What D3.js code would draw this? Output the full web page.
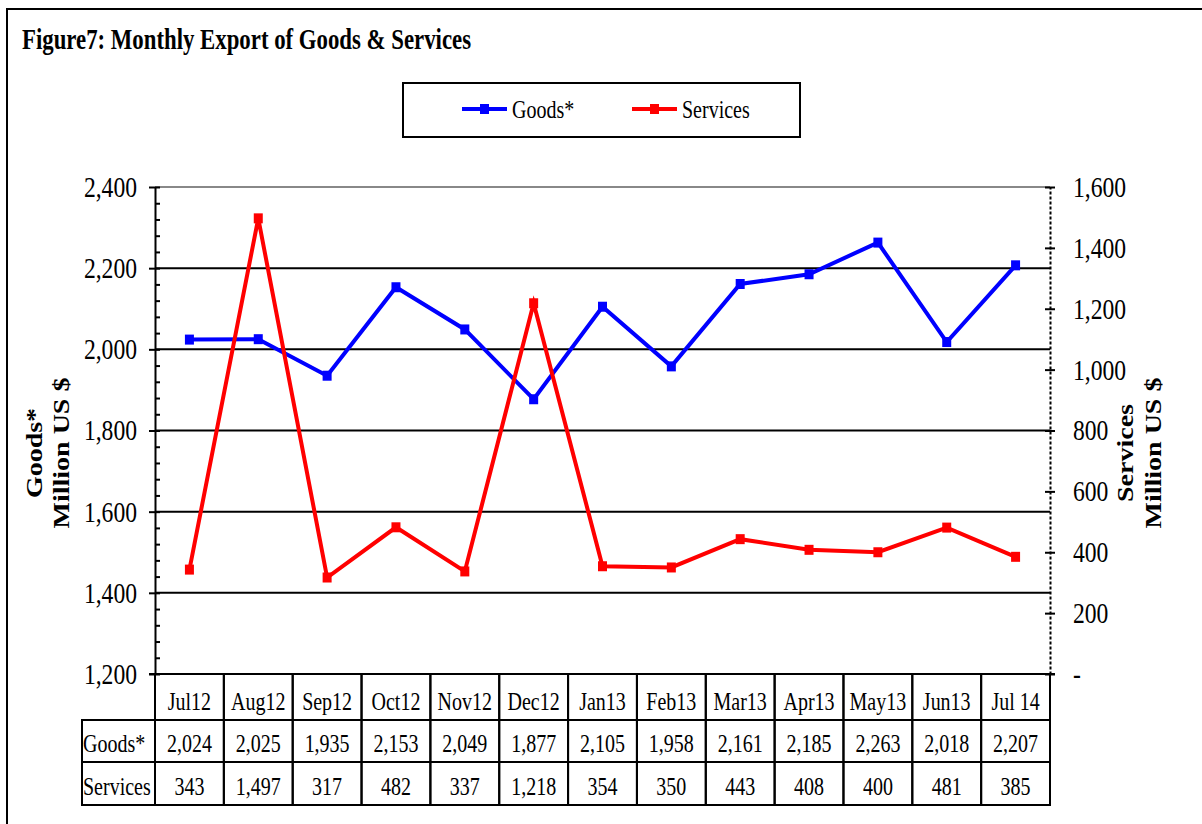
<!DOCTYPE html>
<html>
<head>
<meta charset="utf-8">
<script src="https://cdn.jsdelivr.net/npm/d3@7"></script>
<style>
  body { margin: 0; background: #fff; }
  text { font-family: "Liberation Serif", "Times New Roman", serif; fill: #000; }
</style>
</head>
<body>
<svg id="chart" width="1202" height="824"></svg>
<script>
// data
const months = ["Jul12", "Aug12", "Sep12", "Oct12", "Nov12", "Dec12", "Jan13", "Feb13", "Mar13", "Apr13", "May13", "Jun13", "Jul 14"];
const goods = [2024, 2025, 1935, 2153, 2049, 1877, 2105, 1958, 2161, 2185, 2263, 2018, 2207];
const services = [343, 1497, 317, 482, 337, 1218, 354, 350, 443, 408, 400, 481, 385];
const goodsTicks = [1200, 1400, 1600, 1800, 2000, 2200, 2400];
const servicesTicks = [0, 200, 400, 600, 800, 1000, 1200, 1400, 1600];
const seriesNames = ["Goods*", "Services"];
const seriesColors = ["#0000ff", "#ff0000"];

const SX = 0.8; // the original text is horizontally condensed
const svg = d3.select("#chart");

const plotLeft = 155, plotRight = 1050, plotTop = 187, plotBottom = 674;

const x = d3.scaleBand().domain(months).range([plotLeft, plotRight]);
const yL = d3.scaleLinear().domain([1200, 2400]).range([plotBottom, plotTop]);
const yR = d3.scaleLinear().domain([0, 1600]).range([plotBottom, plotTop]);
const cx = (i) => x(months[i]) + x.bandwidth() / 2;
const fmt = d3.format(",");

// outer frame
svg.append("rect")
  .attr("x", 7).attr("y", 9)
  .attr("width", 1300).attr("height", 900)
  .attr("fill", "none").attr("stroke", "#000").attr("stroke-width", 2);

// title
svg.append("text")
  .attr("transform", `translate(22,49) scale(${SX},1)`)
  .style("font-size", "28.5px").style("font-weight", "bold")
  .text("Figure7: Monthly  Export of Goods & Services");

// legend
const legend = svg.append("g");
legend.append("rect")
  .attr("x", 403).attr("y", 83).attr("width", 397).attr("height", 54)
  .attr("fill", "#fff").attr("stroke", "#000").attr("stroke-width", 2);
const legendX = [462, 632];
seriesNames.forEach((name, k) => {
  const g = legend.append("g").attr("transform", `translate(${legendX[k]},109)`);
  g.append("line").attr("x1", 0).attr("x2", 45)
    .attr("stroke", seriesColors[k]).attr("stroke-width", 4);
  g.append("rect").attr("x", 18).attr("y", -5).attr("width", 9).attr("height", 10)
    .attr("fill", seriesColors[k]);
  g.append("text")
    .attr("transform", `translate(50,9) scale(${SX},1)`)
    .style("font-size", "25px")
    .text(name);
});

// gridlines
svg.append("g")
  .selectAll("line")
  .data(goodsTicks.filter(d => d > 1200))
  .join("line")
  .attr("x1", plotLeft).attr("x2", plotRight)
  .attr("y1", d => yL(d)).attr("y2", d => yL(d))
  .attr("stroke", d => d === 2400 ? "#888" : "#000")
  .attr("stroke-width", 2);

// left axis
const gL = svg.append("g")
  .attr("transform", `translate(${plotLeft},0)`)
  .call(d3.axisLeft(yL).tickValues(goodsTicks).tickSize(6).tickSizeOuter(0).tickFormat(fmt));
gL.select(".domain").attr("stroke-width", 2);
gL.selectAll(".tick line").attr("stroke-width", 2);
gL.selectAll(".tick text")
  .attr("x", 0)
  .attr("transform", `translate(-18,0) scale(${SX},1)`)
  .style("font-size", "29.5px")
  .style("font-family", "'Liberation Serif', serif");

// left minor ticks
const gLm = svg.append("g")
  .attr("transform", `translate(${plotLeft},0)`)
  .call(d3.axisRight(yL).tickValues(d3.range(1200, 2401, 40)).tickSize(5).tickSizeOuter(0).tickFormat(""));
gLm.select(".domain").remove();
gLm.selectAll(".tick line").attr("stroke-width", 2);

// right axis
const gR = svg.append("g")
  .attr("transform", `translate(${plotRight},0)`)
  .call(d3.axisRight(yR).tickValues(servicesTicks).tickSize(5).tickSizeOuter(0)
    .tickFormat(d => d === 0 ? "-" : fmt(d)));
gR.select(".domain").attr("stroke-width", 2).attr("stroke-dasharray", "3,2");
gR.selectAll(".tick line").attr("x1", -5).attr("stroke-width", 2);
gR.selectAll(".tick text")
  .attr("x", 0)
  .attr("transform", `translate(23,0) scale(${SX},1)`)
  .style("font-size", "29.5px")
  .style("font-family", "'Liberation Serif', serif");

// axis titles
const axisTitle = (tx, ty, label) => svg.append("text")
  .attr("transform", `translate(${tx},${ty}) scale(${SX},1) rotate(-90)`)
  .attr("text-anchor", "middle")
  .style("font-size", "28px").style("font-weight", "bold")
  .text(label);
axisTitle(42, 453, "Goods*");
axisTitle(69, 453, "Million US $");
axisTitle(1133, 453, "Services");
axisTitle(1161, 453, "Million US $");

// series
const line = d3.line().x((d, i) => cx(i));
[goods, services].forEach((vals, k) => {
  const y = k === 0 ? yL : yR;
  const g = svg.append("g");
  g.append("path")
    .datum(vals)
    .attr("d", line.y(d => y(d)))
    .attr("fill", "none")
    .attr("stroke", seriesColors[k])
    .attr("stroke-width", 4)
    .attr("stroke-linejoin", "miter");
  g.selectAll("rect")
    .data(vals)
    .join("rect")
    .attr("x", (d, i) => cx(i) - 4.5)
    .attr("y", d => y(d) - 5)
    .attr("width", 9).attr("height", 10)
    .attr("fill", seriesColors[k]);
});

// data table under the plot
const rowTop = [plotBottom, 720, 762];
const rowBottom = [720, 762, 805];
const table = svg.append("g");
const cell = (x0, x1, r) => table.append("rect")
  .attr("x", x0).attr("y", rowTop[r])
  .attr("width", x1 - x0).attr("height", rowBottom[r] - rowTop[r])
  .attr("fill", "none").attr("stroke", "#000").attr("stroke-width", 2);
const cellText = (tx, r, str, anchor) => table.append("text")
  .attr("transform", `translate(${tx},${rowBottom[r] - 10}) scale(${SX},1)`)
  .attr("text-anchor", anchor)
  .style("font-size", "25px")
  .text(str);

months.forEach((m, i) => {
  cell(x(m), x(m) + x.bandwidth(), 0);
  cellText(cx(i), 0, m, "middle");
});
[goods, services].forEach((vals, k) => {
  const r = k + 1;
  cell(82, plotLeft, r);
  cellText(83, r, seriesNames[k], "start");
  vals.forEach((v, i) => {
    cell(x(months[i]), x(months[i]) + x.bandwidth(), r);
    cellText(cx(i), r, fmt(v), "middle");
  });
});
// plot bottom edge
svg.append("line")
  .attr("x1", plotLeft - 6).attr("x2", plotRight + 5)
  .attr("y1", plotBottom).attr("y2", plotBottom)
  .attr("stroke", "#000").attr("stroke-width", 2);
</script>
</body>
</html>
